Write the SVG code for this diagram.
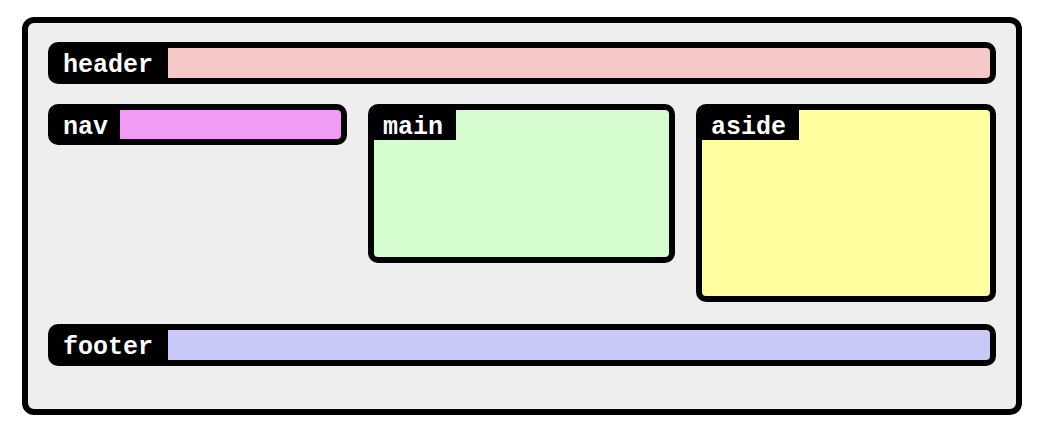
<svg xmlns="http://www.w3.org/2000/svg" width="1044" height="434" viewBox="0 0 1044 434">
<style>
.box{stroke:#000;stroke-width:6}
.lab{fill:#000}
.txt{font-family:"Liberation Mono","DejaVu Sans Mono",monospace;font-weight:bold;font-size:25px;fill:#fff}
</style>
<rect x="0" y="0" width="1044" height="434" fill="#fff"/>
<g id="container">
<rect class="box" x="25" y="20" width="994" height="392" rx="9" fill="#eeeeee"/>
</g>
<g id="header">
<rect x="51" y="45" width="942" height="36" rx="7" fill="#f7c8c8"/>
<path class="lab" d="M58 45 H168 V81 H58 A7 7 0 0 1 51 74 V52 A7 7 0 0 1 58 45 Z"/>
<rect class="box" x="51" y="45" width="942" height="36" rx="7" fill="none"/>
<text class="txt" x="63" y="72">header</text>
</g>
<g id="nav">
<rect x="51" y="107" width="293" height="35" rx="7" fill="#f09cf5"/>
<path class="lab" d="M58 107 H120 V142 H58 A7 7 0 0 1 51 135 V114 A7 7 0 0 1 58 107 Z"/>
<rect class="box" x="51" y="107" width="293" height="35" rx="7" fill="none"/>
<text class="txt" x="63" y="134">nav</text>
</g>
<g id="main">
<rect x="371" y="107" width="301" height="153" rx="7" fill="#d4fccf"/>
<path class="lab" d="M378 107 H456 V140 H371 V114 A7 7 0 0 1 378 107 Z"/>
<rect class="box" x="371" y="107" width="301" height="153" rx="7" fill="none"/>
<text class="txt" x="383" y="134">main</text>
</g>
<g id="aside">
<rect x="699" y="107" width="294" height="192" rx="7" fill="#ffffa0"/>
<path class="lab" d="M706 107 H799 V140 H699 V114 A7 7 0 0 1 706 107 Z"/>
<rect class="box" x="699" y="107" width="294" height="192" rx="7" fill="none"/>
<text class="txt" x="711" y="134">aside</text>
</g>
<g id="footer">
<rect x="51" y="327" width="942" height="36" rx="7" fill="#c9c9f9"/>
<path class="lab" d="M58 327 H168 V363 H58 A7 7 0 0 1 51 356 V334 A7 7 0 0 1 58 327 Z"/>
<rect class="box" x="51" y="327" width="942" height="36" rx="7" fill="none"/>
<text class="txt" x="63" y="354">footer</text>
</g>
<g id="connectors"></g>
</svg>
